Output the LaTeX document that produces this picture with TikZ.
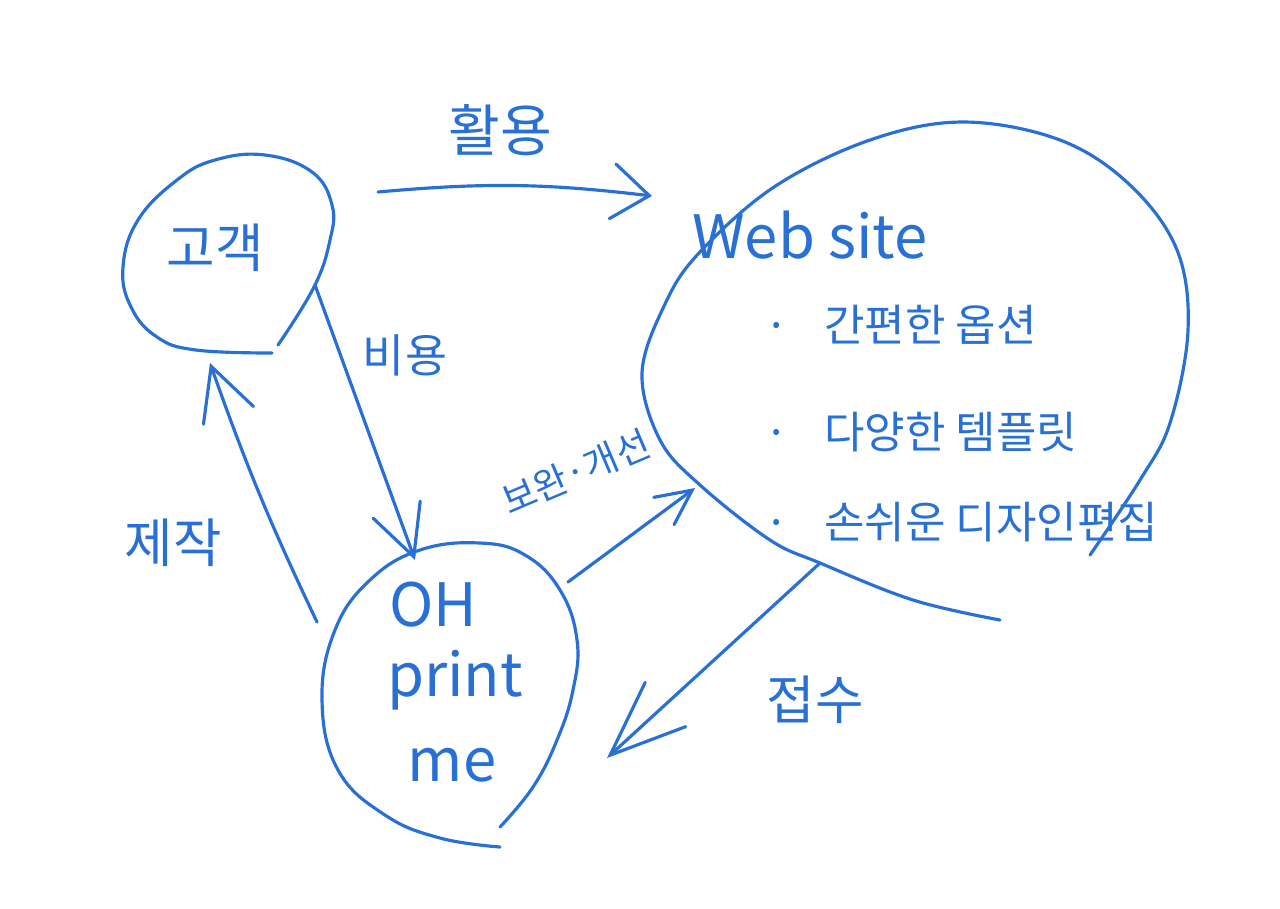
\documentclass[tikz,border=0pt]{standalone}
\usepackage{fontspec}
\setmainfont{Noto Sans CJK KR}
\usetikzlibrary{arrows.meta}
\definecolor{pen}{RGB}{40,112,214}
\begin{document}
\begin{tikzpicture}[x=0.01cm,y=-0.01cm,
  penline/.style={draw=pen, line width=0.9pt, line cap=round, line join=round},
  lbl/.style={text=pen, inner sep=0pt},
  barb/.style n args={2}{-{Straight Barb[length=#1,width=#2,line cap=round]}}
]
\useasboundingbox (0,0) rectangle (1280,908);

% outlines
\draw[penline] plot[smooth, tension=0.7] coordinates {(278,345) (314,287) (330,240) (332,205) (312,172) (265,155) (215,160) (177,180) (138,220) (123,267) (131,307) (157,337) (196,350) (272,353)};
\draw[penline] plot[smooth, tension=0.7] coordinates {(500,827) (533,787) (557,740) (573,690) (577,640) (560,590) (525,555) (480,543) (420,550) (370,580) (335,630) (322,700) (338,770) (385,815) (440,838) (500,847)};
\draw[penline] plot[smooth, tension=0.6] coordinates {(1000,620) (913,600) (820,563) (770,540) (700,485) (660,440) (642,373) (665,304) (699,253) (774,187) (870,140) (963,122) (1060,140) (1130,185) (1177,250) (1188,330) (1170,423) (1140,480) (1090,555)};

% texts
\node[lbl, font=\fontsize{16}{18}\selectfont] (hwal) at (500,130) {활용};
\node[lbl, font=\fontsize{15}{18}\selectfont] (gogaek) at (215,248) {고객};
\node[lbl, font=\fontsize{13}{15}\selectfont] (biyong) at (405,355) {비용};
\node[lbl, font=\fontsize{15}{18}\selectfont] (jejak) at (173,543) {제작};
\node[lbl, font=\fontsize{10.5}{13}\selectfont, rotate=23] (bowan) at (576,472) {보완·개선};
\node[lbl, font=\fontsize{17}{20}\selectfont] (oh) at (433,605) {OH};
\node[lbl, font=\fontsize{17}{20}\selectfont] (print) at (455,680) {print};
\node[lbl, font=\fontsize{17}{20}\selectfont] (me) at (452,765) {me};
\node[lbl, font=\fontsize{17}{20}\selectfont] (web) at (810,235) {Web site};
\node[lbl, font=\fontsize{12.5}{15}\selectfont, anchor=west] (it1) at (764,325) {·\hspace{0.8em}간편한 옵션};
\node[lbl, font=\fontsize{12.5}{15}\selectfont, anchor=west] (it2) at (764,432) {·\hspace{0.8em}다양한 템플릿};
\node[lbl, font=\fontsize{12.5}{15}\selectfont, anchor=west] (it3) at (764,522) {·\hspace{0.8em}손쉬운 디자인편집};
\node[lbl, font=\fontsize{15}{18}\selectfont] (jeopsu) at (815,700) {접수};

% connector end points
\coordinate (a1s) at (378,192); \coordinate (a1e) at (652,196);
\coordinate (b1s) at (315,285); \coordinate (b1e) at (415,560);
\coordinate (c1s) at (317,622); \coordinate (c1e) at (210,363);
\coordinate (d1s) at (568,582); \coordinate (d1e) at (695,488);
\coordinate (e1s) at (820,563); \coordinate (e1e) at (607,758);

\draw[penline, barb={3.7mm}{5.5mm}] (a1s) to[bend left=6] (a1e);
\draw[penline, barb={5mm}{5mm}] (b1s) -- (b1e);
\draw[penline, barb={5.2mm}{5.3mm}] (c1s) to[bend left=3] (c1e);
\draw[penline, barb={3.5mm}{3.4mm}] (d1s) -- (d1e);
\draw[penline, barb={7.5mm}{6mm}] (e1s) -- (e1e);
\end{tikzpicture}
\end{document}
